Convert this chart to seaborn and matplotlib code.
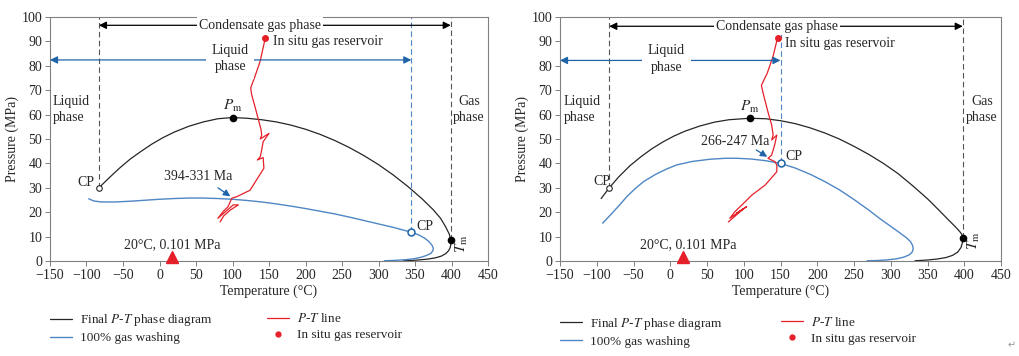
import numpy as np
import pandas as pd
import matplotlib
matplotlib.use('Agg')
import matplotlib.pyplot as plt
import seaborn as sns
from matplotlib.lines import Line2D

sns.set_theme(style='white')
plt.rcParams['font.family'] = ['Liberation Serif', 'DejaVu Serif']
plt.rcParams['mathtext.fontset'] = 'stix'
plt.rcParams['axes.unicode_minus'] = True

# ---- datos (panel izquierdo) ----
izq_negra_T = [-83, -70, -55, -40, -25, -10, 5, 20, 40, 60, 80, 100, 120, 140, 160, 180,
               200, 220, 240, 260, 280, 300, 320, 340, 360, 375, 385, 392, 397, 399,
               399.2, 398.2, 396, 392, 386, 378, 368, 356, 344, 334]
izq_negra_P = [30, 33.8, 38, 41.8, 45, 48, 50.6, 52.8, 55.2, 57, 58.3, 58.8, 58.5, 57.9, 57.0,
               55.7, 54.0, 51.9, 49.4, 46.5, 43.2, 39.5, 35.3, 30.6, 25.4, 21, 17.5, 14, 11,
               8.5, 7, 5.5, 4.2, 3, 2, 1.3, 0.8, 0.45, 0.2, 0.1]

izq_azul_T = [-97, -90, -80, -60, -40, -20, 0, 20, 40, 60, 80, 100, 120, 140, 160, 180, 200,
              220, 240, 260, 280, 300, 320, 345, 355, 363, 369, 373, 375, 374.5, 372, 366,
              358, 348, 336, 322, 308]
izq_azul_P = [25.5, 24.6, 24.2, 24.2, 24.5, 24.9, 25.3, 25.6, 25.8, 25.8, 25.6, 25.3, 24.8, 24.2,
              23.4, 22.5, 21.5, 20.4, 19.3, 18, 16.6, 15.2, 13.8, 11.8, 10.7, 9.4, 8, 6.6, 5.3,
              4.2, 3.2, 2.3, 1.5, 0.9, 0.5, 0.25, 0.1]

izq_roja_T = [145, 138, 130, 125, 126, 131, 135, 139, 140, 138, 150, 142, 140, 138, 134, 142,
              143, 124, 106, 99, 94, 87, 80, 101, 108, 97, 88, 83]
izq_roja_P = [91.5, 82, 75, 71, 68.5, 63, 58.5, 54, 51.6, 50, 52.3, 48.9, 45.5, 42.7, 41.4, 42.4,
              38, 29, 26.4, 25.7, 22.3, 20.2, 17.5, 23, 23, 20.9, 18.5, 16]

izq_cp = [(-83, 30), (345, 11.8)]
izq_pm = (100, 58.8)
izq_tm = (399, 8.5)
izq_edad = '394-331 Ma'

# ---- datos (panel derecho) ----
der_negra_T = [-94, -83, -70, -55, -40, -25, -10, 5, 20, 40, 60, 80, 108, 130, 150, 170, 190,
               210, 230, 250, 270, 290, 310, 330, 350, 365, 378, 388, 394, 397, 398,
               397.5, 395.5, 391, 384, 375, 363, 350, 333]
der_negra_P = [25.6, 30, 34.5, 39, 42.7, 46, 48.8, 51.2, 53.2, 55.3, 56.9, 57.9, 58.5, 58.3,
               57.5, 56.3, 54.6, 52.5, 50, 47, 43.7, 40, 35.8, 30.8, 25.5, 21, 17, 14, 12,
               10.8, 9.6, 7.5, 5.5, 3.6, 2.3, 1.4, 0.8, 0.4, 0.1]

der_azul_T = [-92, -80, -70, -59, -48, -36, -20, -5, 9, 30, 54, 75, 91, 110, 130, 150, 170,
              190, 210, 230, 250, 270, 285, 300, 312, 321, 327, 330, 330.5, 329, 325, 318,
              308, 295, 282, 268]
der_azul_P = [15.5, 19.3, 22.6, 26.4, 29.6, 32.6, 35.5, 37.7, 39.4, 40.8, 41.7, 42.1, 42.1,
              41.8, 41.1, 40, 38.1, 35.6, 32.6, 29.2, 25.2, 20.9, 17.4, 14.2, 11.6, 9.6, 7.9,
              6.2, 4.8, 3.6, 2.5, 1.6, 0.9, 0.45, 0.2, 0.1]

der_roja_T = [146, 140, 132, 124, 127, 133, 138, 140, 138, 145, 142, 138, 133, 142.5, 145,
              145, 129, 111, 102, 94, 88, 81, 104, 90, 100, 79]
der_roja_P = [91.5, 84, 77, 72, 68, 61, 55.7, 51.6, 49.6, 51.6, 47.5, 43.4, 42.1, 40.7, 39.3,
              36.6, 31.1, 27, 24.3, 22, 20.2, 17.5, 22.3, 19.5, 21.5, 16]

der_cp = [(-83, 30), (150, 40)]
der_pm = (108, 58.5)
der_tm = (398, 9.6)
der_edad = '266-247 Ma'

superficie = (17, 1.5)   # 20°C, 0.101 MPa

NEGRO = '#262626'
AZUL = '#4f86c4'
AZUL_F = '#1f64a8'
ROJO = '#e5202a'
GRIS = '#808080'


def panel(ax, negra, azul, roja, cp, pm, tm, edad, cfg):
    sns.lineplot(x=negra[0], y=negra[1], sort=False, estimator=None, color=NEGRO, lw=0.9, ax=ax)
    sns.lineplot(x=azul[0], y=azul[1], sort=False, estimator=None, color=AZUL, lw=1.0, ax=ax)
    sns.lineplot(x=roja[0], y=roja[1], sort=False, estimator=None, color=ROJO, lw=0.9, ax=ax)

    # lineas verticales discontinuas
    ax.plot([cp[0][0]] * 2, [cp[0][1], 100], ls=(0, (5, 3)), color='#555555', lw=0.8)
    ax.plot([tm[0]] * 2, [tm[1], 100], ls=(0, (5, 3)), color='#555555', lw=0.8)
    ax.plot([cp[1][0]] * 2, [cp[1][1], 100], ls=(0, (5, 3)), color=AZUL, lw=0.8)

    # puntos
    ax.plot(*cp[0], 'o', ms=4, mfc='white', mec=NEGRO, mew=0.8, zorder=5)
    ax.plot(*cp[1], 'o', ms=5, mfc='white', mec=AZUL_F, mew=1.1, zorder=5)
    ax.plot(*pm, 'o', ms=4.5, color='black', zorder=5)
    ax.plot(*tm, 'o', ms=4.5, color='black', zorder=5)
    ax.plot(roja[0][0], roja[1][0], 'o', ms=4, color=ROJO, zorder=5)
    ax.plot(*superficie, '^', ms=9, color=ROJO, zorder=5, clip_on=False)

    # flecha fase condensada
    yc = cfg['y_cond']
    ax.annotate('', xy=(cp[0][0], yc), xytext=(tm[0], yc),
                arrowprops=dict(arrowstyle='<|-|>', color='black', lw=0.9,
                                mutation_scale=11, shrinkA=0, shrinkB=0))
    ax.text(cfg['x_cond'], yc, 'Condensate gas phase', ha='center', va='center', fontsize=10,
            bbox=dict(fc='white', ec='none', pad=1.5))
    # flecha fase liquida
    yl = cfg['y_liq']
    ax.annotate('', xy=(-150, yl), xytext=(cp[1][0], yl),
                arrowprops=dict(arrowstyle='<|-|>', color=AZUL_F, lw=0.9,
                                mutation_scale=11, shrinkA=0, shrinkB=0))
    ax.text(cfg['x_liq'], yl + 0.5, 'Liquid\nphase', ha='center', va='center', fontsize=10,
            linespacing=1.35, bbox=dict(fc='white', ec='none', pad=4))

    ax.text(cfg['x_situ'], cfg['y_situ'], 'In situ gas reservoir', ha='left', va='center',
            fontsize=10)
    ax.text(cfg['x_liq2'], 62, 'Liquid\nphase', ha='left', va='center', fontsize=10,
            linespacing=1.35)
    ax.text(424, 62, 'Gas\nphase', ha='center', va='center', fontsize=10, linespacing=1.35)
    ax.text(pm[0], pm[1] + 4.8, r'$P_{\rm m}$', ha='center', va='center', fontsize=11)
    ax.text(tm[0] + 15, tm[1] - 1.2, r'$T_{\rm m}$', ha='center', va='center', fontsize=11,
            rotation=90)
    ax.text(*cfg['cp1'], 'CP', ha='right', va='center', fontsize=10)
    ax.text(*cfg['cp2'], 'CP', ha='left', va='center', fontsize=10)
    ax.text(cfg['x_sup'], 6.8, '20°C, 0.101 MPa', ha='center', va='center', fontsize=10)

    ax.text(*cfg['edad_txt'], edad, ha='center', va='center', fontsize=10)
    ax.annotate('', xy=cfg['edad_b'], xytext=cfg['edad_a'],
                arrowprops=dict(arrowstyle='-|>', color=AZUL_F, lw=0.9,
                                mutation_scale=10, shrinkA=0, shrinkB=0))

    ax.set_xlim(-150, 450)
    ax.set_ylim(0, 100)
    ax.set_xticks(np.arange(-150, 451, 50))
    ax.set_yticks(np.arange(0, 101, 10))
    ax.tick_params(axis='both', direction='out', length=3.5, width=0.7, color=GRIS,
                   labelsize=10, pad=2, bottom=True, left=True)
    for s in ax.spines.values():
        s.set_color(GRIS)
        s.set_linewidth(0.8)
    ax.set_xlabel('Temperature (°C)', fontsize=10, labelpad=2)
    ax.set_ylabel('Pressure (MPa)', fontsize=10, labelpad=2)

    # leyenda en dos bloques
    h1 = [Line2D([], [], color=NEGRO, lw=0.9), Line2D([], [], color=AZUL, lw=1.0)]
    h2 = [Line2D([], [], color=ROJO, lw=0.9),
          Line2D([], [], ls='none', marker='o', ms=3.5, color=ROJO)]
    kw = dict(frameon=False, loc='upper left', fontsize=9.5, handlelength=1.7,
              handletextpad=0.6, labelspacing=0.3, borderpad=0, borderaxespad=0)
    leg1 = ax.legend(h1, ['Final $P$-$T$ phase diagram', '100% gas washing'],
                     bbox_to_anchor=(0.0, cfg['y_leg']), **kw)
    ax.add_artist(leg1)
    ax.legend(h2, ['$P$-$T$ line', 'In situ gas reservoir'],
              bbox_to_anchor=(cfg['x_leg2'], cfg['y_leg']), **kw)


fig = plt.figure(figsize=(10.19, 3.56), dpi=100)
ax1 = fig.add_axes([50 / 1019, 95 / 356, 438 / 1019, 244 / 356])
ax2 = fig.add_axes([560 / 1019, 95 / 356, 441 / 1019, 244 / 356])

panel(ax1, (izq_negra_T, izq_negra_P), (izq_azul_T, izq_azul_P), (izq_roja_T, izq_roja_P),
      izq_cp, izq_pm, izq_tm, izq_edad,
      dict(y_cond=96.6, x_cond=138, y_liq=82.4, x_liq=97, x_situ=155, y_situ=90,
           x_liq2=-146, cp1=(-89, 32.2), cp2=(352, 14), x_sup=18,
           edad_txt=(53, 34.8), edad_a=(80, 30), edad_b=(97, 26.5),
           y_leg=-0.21, x_leg2=0.495))
panel(ax2, (der_negra_T, der_negra_P), (der_azul_T, der_azul_P), (der_roja_T, der_roja_P),
      der_cp, der_pm, der_tm, der_edad,
      dict(y_cond=96.2, x_cond=145, y_liq=82.2, x_liq=-5, x_situ=156, y_situ=89.3,
           x_liq2=-145, cp1=(-82, 32.5), cp2=(156, 42.7), x_sup=25,
           edad_txt=(88, 48.9), edad_a=(117, 45.5), edad_b=(132, 42.7),
           y_leg=-0.225, x_leg2=0.5))

fig.text(0.993, 0.03, '\u21b5', color='#999999', fontsize=7, family='DejaVu Sans',
         ha='center', va='center')

fig.savefig('out.png', dpi=100)
plt.close(fig)
